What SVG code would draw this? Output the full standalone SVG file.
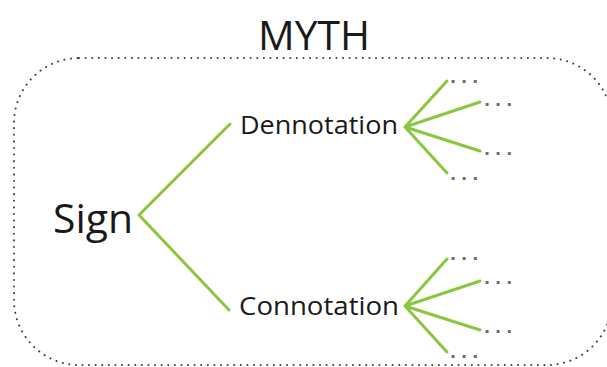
<svg xmlns="http://www.w3.org/2000/svg" width="607" height="367" viewBox="0 0 607 367">
<style>
.lbl{font-family:"Open Sans","DejaVu Sans",sans-serif;fill:#1a1a1a}
.dots{font-family:"DejaVu Sans",sans-serif;font-size:16px;font-weight:bold;fill:#6a6a6a;letter-spacing:5px}
.br{stroke:#8cc63f;stroke-width:3;fill:none;stroke-linecap:round}
</style>
<rect width="607" height="367" fill="#ffffff"/>
<rect x="14" y="58" width="598" height="307" rx="65" ry="65" fill="none" stroke="#444" stroke-width="2" stroke-dasharray="0.1 6.5" stroke-linecap="round"/>
<text x="314" y="50" class="lbl" font-size="41" text-anchor="middle" textLength="112" lengthAdjust="spacingAndGlyphs">MYTH</text>
<g id="connectors">
<path class="br" d="M139 215 L230 124 M139 215 L229 310"/>
<path class="br" d="M405 127 L447 81 M405 127 L480 102 M405 127 L480 151 M405 127 L447 173"/>
<path class="br" d="M405 306 L447 259 M405 306 L480 281 M405 306 L480 330 M405 306 L447 352"/>
</g>
<g id="sign"><text x="53" y="233" class="lbl" font-size="41" textLength="80" lengthAdjust="spacingAndGlyphs">Sign</text></g>
<g id="dennotation"><text x="240" y="134" class="lbl" font-size="26" textLength="158" lengthAdjust="spacingAndGlyphs">Dennotation</text></g>
<g id="connotation"><text x="239" y="315" class="lbl" font-size="26" textLength="160" lengthAdjust="spacingAndGlyphs">Connotation</text></g>
<g id="d1"><text x="450" y="83" class="dots">...</text></g>
<g id="d2"><text x="484" y="106" class="dots">...</text></g>
<g id="d3"><text x="484" y="155" class="dots">...</text></g>
<g id="d4"><text x="450" y="180" class="dots">...</text></g>
<g id="c1"><text x="450" y="260" class="dots">...</text></g>
<g id="c2"><text x="484" y="284" class="dots">...</text></g>
<g id="c3"><text x="484" y="333" class="dots">...</text></g>
<g id="c4"><text x="450" y="358" class="dots">...</text></g>
</svg>
